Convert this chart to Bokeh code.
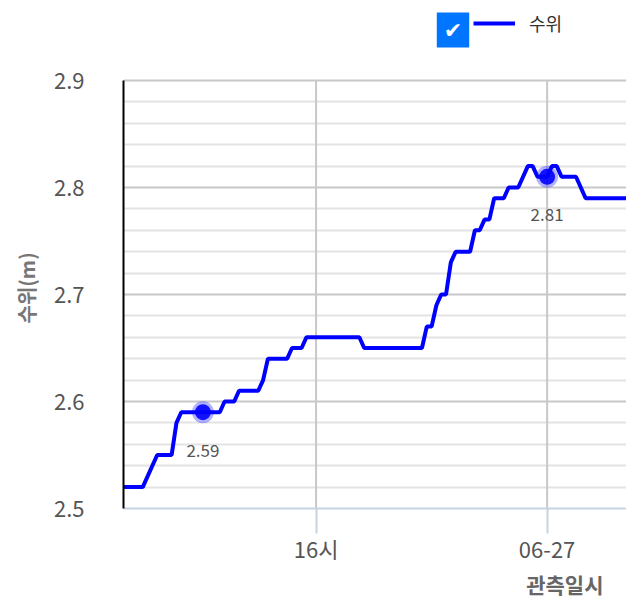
from bokeh.plotting import figure
from bokeh.models import Range1d, FixedTicker, Label, Legend, LegendItem, ColumnDataSource, Title
from bokeh.embed import file_html
from bokeh.resources import INLINE
from bokeh.core.properties import value

# ---- data ----
times = ["06-26 09:20", "06-26 10:00", "06-26 10:30", "06-26 11:00", "06-26 11:10",
         "06-26 11:20", "06-26 12:40", "06-26 12:50", "06-26 13:10", "06-26 13:20",
         "06-26 14:00", "06-26 14:10", "06-26 14:20", "06-26 15:00", "06-26 15:10",
         "06-26 15:30", "06-26 15:40", "06-26 17:30", "06-26 17:40", "06-26 19:40",
         "06-26 19:50", "06-26 20:00", "06-26 20:10", "06-26 20:20", "06-26 20:30",
         "06-26 20:40", "06-26 20:50", "06-26 21:20", "06-26 21:30", "06-26 21:40",
         "06-26 21:50", "06-26 22:00", "06-26 22:10", "06-26 22:30", "06-26 22:40",
         "06-26 23:00", "06-26 23:20", "06-26 23:30", "06-26 23:40", "06-27 00:00",
         "06-27 00:10", "06-27 00:20", "06-27 00:30", "06-27 01:00", "06-27 01:20",
         "06-27 02:50"]
levels = [2.52, 2.52, 2.55, 2.55, 2.58,
          2.59, 2.59, 2.60, 2.60, 2.61,
          2.61, 2.62, 2.64, 2.64, 2.65,
          2.65, 2.66, 2.66, 2.65, 2.65,
          2.67, 2.67, 2.69, 2.70, 2.70,
          2.73, 2.74, 2.74, 2.76, 2.76,
          2.77, 2.77, 2.79, 2.79, 2.80,
          2.80, 2.82, 2.82, 2.81, 2.81,
          2.82, 2.82, 2.81, 2.81, 2.79,
          2.79]

marker_times = ["06-26 12:05", "06-27 00:00"]
marker_levels = [2.59, 2.81]
marker_texts = ["2.59", "2.81"]

x_tick_times = ["06-26 16:00", "06-27 00:00"]
x_tick_labels = ["16시", "06-27"]
y_ticks = [2.5, 2.6, 2.7, 2.8, 2.9]
y_minor_ticks = [2.52, 2.54, 2.56, 2.58, 2.62, 2.64, 2.66, 2.68,
                 2.72, 2.74, 2.76, 2.78, 2.82, 2.84, 2.86, 2.88]
x_start, x_end = "06-26 09:20", "06-27 02:47"
y_start, y_end = 2.5, 2.9

series_name = "수위"
y_title = "수위(m)"
x_title = "관측일시"


def hours(s):
    day = int(s[3:5])
    hh, mm = s[6:].split(":")
    return (day - 26) * 24 + int(hh) + int(mm) / 60.0


xs = [hours(t) for t in times]
mxs = [hours(t) for t in marker_times]
tick_x = [hours(t) for t in x_tick_times]

KR = "Noto Sans CJK KR"

# layout: the frame also covers the legend strip above the value area
FRAME_H = 508          # px, frame height (top of page to x axis)
AXIS_H = 428           # px, height of the 2.5 .. 2.9 value area
y_top = y_start + (y_end - y_start) * FRAME_H / AXIS_H

p = figure(frame_width=504, frame_height=FRAME_H,
           min_border_left=122, min_border_right=0,
           min_border_top=0, min_border_bottom=101,
           x_range=Range1d(hours(x_start), hours(x_end)),
           y_range=Range1d(y_start, y_top),
           output_backend="svg", toolbar_location=None)
p.outline_line_color = None
p.background_fill_color = "white"
p.border_fill_color = "white"

# grids
p.ygrid.ticker = FixedTicker(ticks=y_ticks, minor_ticks=y_minor_ticks)
p.ygrid.grid_line_color = "#c8c8c8"
p.ygrid.grid_line_width = 2
p.ygrid.minor_grid_line_color = "#e3e3e3"
p.ygrid.minor_grid_line_width = 2
p.xgrid.grid_line_color = None
p.segment(x0=tick_x, y0=[y_start] * len(tick_x), x1=tick_x, y1=[y_end] * len(tick_x),
          line_color="#c8c8c8", line_width=2)

# y axis
p.yaxis.ticker = FixedTicker(ticks=y_ticks)
p.yaxis.bounds = (y_start, y_end)
p.yaxis.axis_line_color = "black"
p.yaxis.axis_line_width = 2
p.yaxis.major_tick_line_color = None
p.yaxis.minor_tick_line_color = None
p.yaxis.major_tick_out = 0
p.yaxis.major_tick_in = 0
p.yaxis.major_label_standoff = 39
p.yaxis.major_label_text_font = KR
p.yaxis.major_label_text_font_size = "22px"
p.yaxis.major_label_text_color = "#555555"

yt = Title(text=y_title, align="left", offset=185, standoff=19,
           text_font=KR, text_font_size="20px", text_font_style="bold",
           text_color="#777777")
p.add_layout(yt, "left")

# x axis
p.xaxis.ticker = FixedTicker(ticks=tick_x)
p.xaxis.major_label_overrides = {int(t): lab for t, lab in zip(tick_x, x_tick_labels)}
p.xaxis.axis_line_color = "#c5d4e3"
p.xaxis.axis_line_width = 2
p.xaxis.major_tick_line_color = "#c5d4e3"
p.xaxis.major_tick_line_width = 2
p.xaxis.major_tick_out = 25
p.xaxis.major_tick_in = 0
p.xaxis.minor_tick_line_color = None
p.xaxis.major_label_standoff = -2
p.xaxis.major_label_text_font = KR
p.xaxis.major_label_text_font_size = "22px"
p.xaxis.major_label_text_color = "#555555"

xt = Title(text=x_title, align="right", offset=24, standoff=0,
           text_font=KR, text_font_size="21px", text_font_style="bold",
           text_color="#666666")
p.add_layout(xt, "below")

# series
line_r = p.line(xs, levels, line_color="#0000ff", line_width=4)

msrc = ColumnDataSource(dict(x=mxs, y=marker_levels, t=marker_texts))
p.scatter("x", "y", source=msrc, size=22, fill_color="#0000ff", line_color=None, fill_alpha=0.3)
p.scatter("x", "y", source=msrc, size=16, fill_color="#0000ff", line_color=None, fill_alpha=0.9)
p.text("x", "y", text="t", source=msrc, text_align="center", text_baseline="middle",
       y_offset=38, text_font=value(KR), text_font_size="17px", text_color="#555555")

# legend
legend = Legend(items=[LegendItem(label=series_name, renderers=[line_r])],
                location=(350, 472), orientation="horizontal",
                glyph_width=42, glyph_height=24, label_standoff=14,
                padding=0, margin=0, spacing=0,
                border_line_color=None, background_fill_alpha=0,
                label_text_font=KR, label_text_font_size="18px",
                label_text_color="#333333")
p.add_layout(legend)

checkbox = Label(x=329.5, y=478.5, x_units="screen", y_units="screen", text="✔",
                 text_align="center", text_baseline="middle",
                 text_font="DejaVu Sans", text_font_size="22px", text_color="white",
                 background_fill_color="#0075ff", padding=(7, 5))
p.add_layout(checkbox)

open("out.html", "w").write(file_html(p, INLINE))
